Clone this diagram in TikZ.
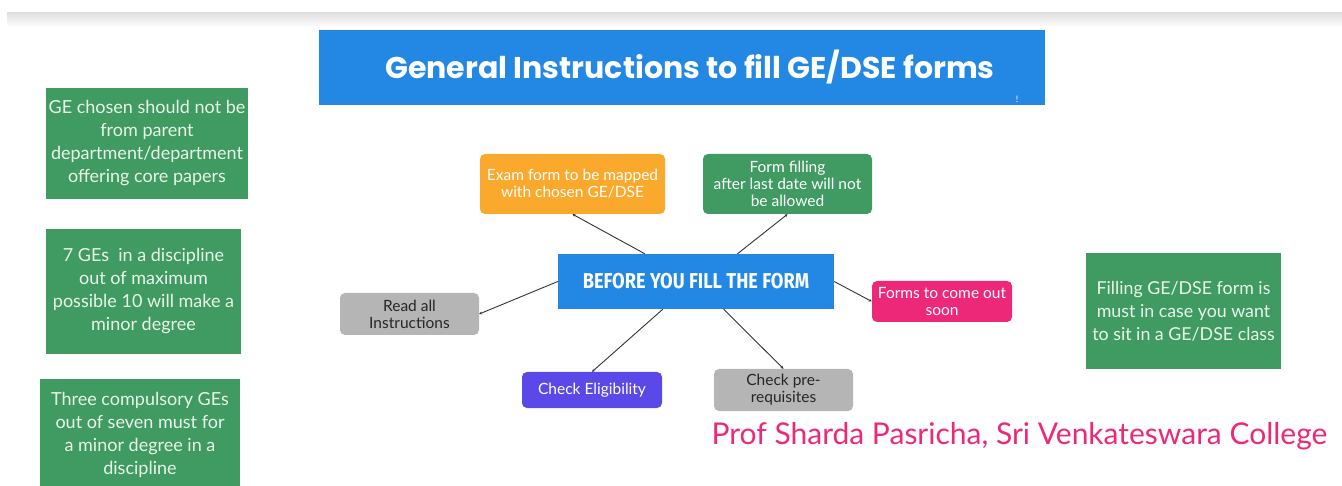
\documentclass[tikz,border=0pt]{standalone}
\usepackage{fontspec}
\setmainfont{Lato}
\newfontfamily\titlefont{Poppins}
\newfontfamily\condfont[FakeStretch=0.85]{Fira Sans}
\usetikzlibrary{arrows.meta,calc}
\definecolor{topblue}{HTML}{2388E4}
\definecolor{leafgreen}{HTML}{3F9B62}
\definecolor{palemint}{HTML}{EAF6E8}
\definecolor{orangebox}{HTML}{FBA92C}
\definecolor{pinkbox}{HTML}{EE2878}
\definecolor{purplebox}{HTML}{5B48E8}
\definecolor{greybox}{HTML}{B5B5B5}
\begin{document}
\begin{tikzpicture}[x=1pt,y=-1pt]
    \tikzstyle{note} = [rectangle, fill=leafgreen, text=palemint, align=center, font=\fontsize{18}{23}\selectfont, inner sep=0pt]
    \tikzstyle{proc} = [rectangle, rounded corners=5pt, align=center, inner sep=0pt, font=\fontsize{15.5}{17}\selectfont]
    \tikzstyle{arrow} = [draw=black!80, line width=0.9pt, -{Stealth[length=3pt,width=3pt]}]
    \useasboundingbox (0,0) rectangle (1342,486);
    \shade[top color=black!12, bottom color=white] (7,13) rectangle (1342,27);
    \node (title) [rectangle, fill=topblue, minimum width=726pt, minimum height=75pt, text=white, font=\titlefont\bfseries\fontsize{30}{32}\selectfont] at (682, 67.5) {\hspace{16pt}General Instructions to fill GE/DSE forms};
    \node (bang) [text=white, font=\fontsize{9}{9}\selectfont, inner sep=0pt] at (1017, 99) {!};
    \node (ge1) [note, minimum width=202pt, minimum height=111pt] at (147, 143.5) {GE chosen should not be\\from parent\\department/department\\offering core papers};
    \node (ge2) [note, minimum width=195pt, minimum height=125pt] at (143.5, 291.5) {7 GEs\ \ in a discipline\\out of maximum\\possible 10 will make a\\minor degree};
    \node (ge3) [note, minimum width=200pt, minimum height=111pt] at (140, 434.5) {Three compulsory GEs\\out of seven must for\\a minor degree in a\\discipline};
    \node (must) [note, font=\fontsize{17.8}{23}\selectfont, minimum width=195pt, minimum height=116pt] at (1183.5, 311) {Filling GE/DSE form is\\must in case you want\\to sit in a GE/DSE class};
    \node (before) [rectangle, fill=topblue, minimum width=276pt, minimum height=55pt, text=white, font=\condfont\bfseries\fontsize{21.5}{21.5}\selectfont] at (696, 281.5) {BEFORE YOU FILL THE FORM};
    \node (exam) [proc, fill=orangebox, text=white, minimum width=185pt, minimum height=60pt] at (572.5, 184) {Exam form to be mapped\\with chosen GE/DSE};
    \node (late) [proc, fill=leafgreen, text=white, minimum width=169pt, minimum height=60pt] at (787.5, 184) {Form filling\\after last date will not\\be allowed};
    \node (read) [proc, fill=greybox, text=black!85, minimum width=139pt, minimum height=42pt] at (409.5, 314) {Read all\\Instructions};
    \node (soon) [proc, fill=pinkbox, text=white, minimum width=140pt, minimum height=41pt] at (942, 301.5) {Forms to come out\\soon};
    \node (elig) [proc, fill=purplebox, text=white, minimum width=140pt, minimum height=36pt] at (592, 390) {Check Eligibility};
    \node (prereq) [proc, fill=greybox, text=black!85, minimum width=139pt, minimum height=42pt] at (783.5, 390) {Check pre-\\requisites};
    \node (author) [text=pinkbox, font=\fontsize{30}{32}\selectfont] at (1019.5, 436) {Prof Sharda Pasricha, Sri Venkateswara College};
    \draw[arrow] ($(before.north west)!0.315!(before.north east)$) to (exam.south);
    \draw[arrow] ($(before.north west)!0.65!(before.north east)$) to (late.south);
    \draw[arrow] (before.west) to (read.east);
    \draw[arrow] (before.east) to (soon.west);
    \draw[arrow] ($(before.south west)!0.38!(before.south east)$) to (elig.north);
    \draw[arrow] ($(before.south west)!0.6!(before.south east)$) to (prereq.north);
  \end{tikzpicture}
\end{document}
